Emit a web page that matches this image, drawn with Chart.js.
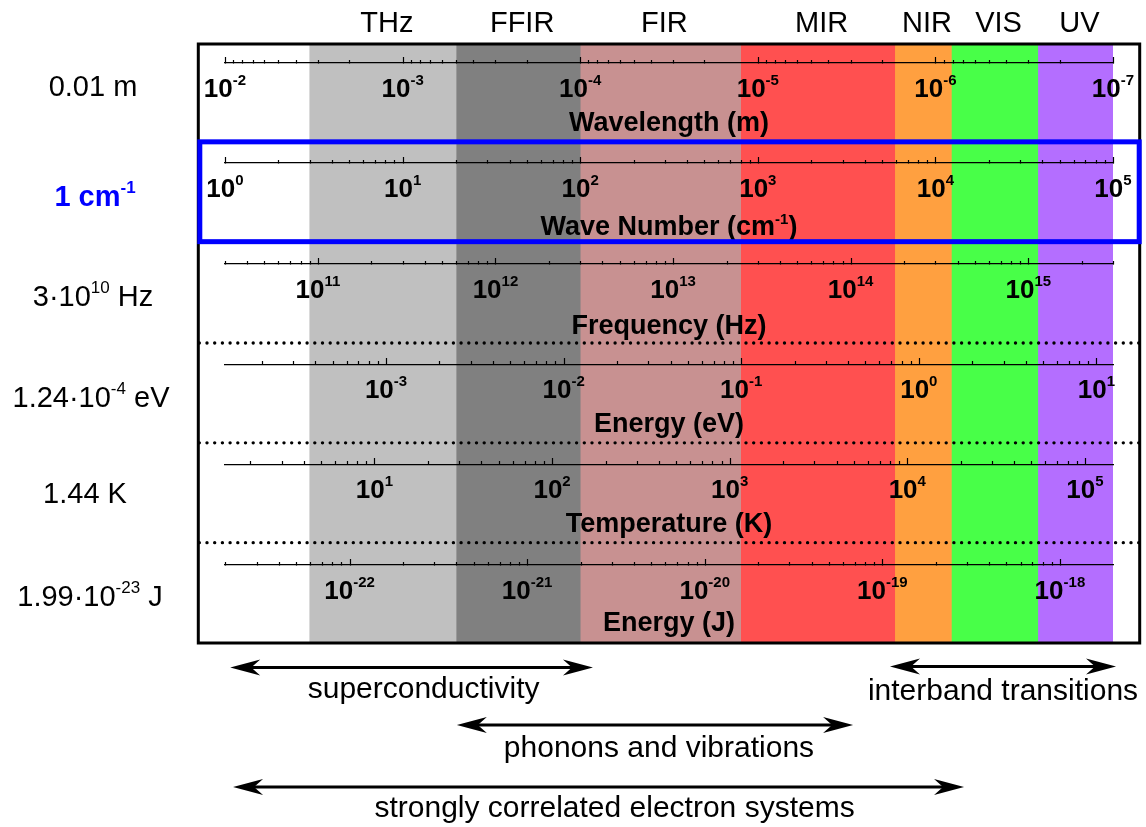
<!DOCTYPE html>
<html>
<head>
<meta charset="utf-8">
<title>Electromagnetic spectrum scales</title>
<script src="https://cdn.jsdelivr.net/npm/chart.js@4.4.1/dist/chart.umd.min.js"></script>
<style>
  html, body { margin: 0; padding: 0; background: #fff; }
  #wrap { width: 1146px; height: 827px; }
</style>
</head>
<body>
<div id="wrap"><canvas id="spectrum" width="1146" height="827"></canvas></div>
<script>
// ---------------- data ----------------
// spectral regions, in wave numbers (cm^-1)
const bandNames  = ['THz', 'FFIR', 'FIR', 'MIR', 'NIR', 'VIS', 'UV'];
const bandFrom   = [3, 20, 100, 800, 5900, 12300, 37700];
const bandTo     = [20, 100, 800, 5900, 12300, 37700, 100000];
const bandColors = ['#c0c0c0', '#808080', '#c89191', '#ff5050', '#ffa040', '#48ff48', '#b46eff'];

// the common wave-number span of every scale row
const wavenumberRange = [1, 1e5];

// one row per physical quantity; value of each quantity at 1 cm^-1
const axisTitles          = ['Wavelength (m)', 'Wave Number (cm^{-1})', 'Frequency (Hz)', 'Energy (eV)', 'Temperature (K)', 'Energy (J)'];
const axisAtOneWavenumber = [0.01, 1, 3e10, 1.24e-4, 1.44, 1.99e-23];
const axisInverse         = [true, false, false, false, false, false];
const referenceLabels     = ['0.01 m', '1 cm^{-1}', '3·10^{10} Hz', '1.24·10^{-4} eV', '1.44 K', '1.99·10^{-23} J'];

// labelled decades of each row
const wavelengthExponents  = [-2, -3, -4, -5, -6, -7];
const wavenumberExponents  = [0, 1, 2, 3, 4, 5];
const frequencyExponents   = [11, 12, 13, 14, 15];
const energyEvExponents    = [-3, -2, -1, 0, 1];
const temperatureExponents = [1, 2, 3, 4, 5];
const energyJExponents     = [-22, -21, -20, -19, -18];
const rowExponents = [wavelengthExponents, wavenumberExponents, frequencyExponents,
                      energyEvExponents, temperatureExponents, energyJExponents];

// physical phenomena and the wave-number ranges they cover
const rangeNames = ['superconductivity', 'interband transitions', 'phonons and vibrations', 'strongly correlated electron systems'];
const rangeFrom  = [1.07, 5550, 20.2, 1.11];
const rangeTo    = [118, 104000, 3440, 14500];

// ---------------- layout & style ----------------
const FONT = '"Liberation Sans", Arial, Helvetica, sans-serif';
const ROW_AXIS_AT   = [0.19, 1.19, 2.2, 3.21, 4.21, 5.22];  // axis line inside each row (row units)
const TITLE_DY      = [67, 71, 69, 67, 67, 65];             // title baseline below axis line
const TICK_LABEL_DY = 33;
const REF_LABEL_X   = [93, 95, 93, 91, 85, 90];
const REF_LABEL_DY  = [52, 62.5, 62.5, 63, 59.5, 63];       // baseline below row top
const ARROW_Y       = [667.5, 666.5, 725, 787];
const ARROW_LABEL_Y = [698, 700, 756.5, 816.5];
const ARROW_LABEL_SHIFT = [12, 0, 4, 16];
const FRAME_MARGIN  = 26.7;

// ---------------- helpers ----------------
function parseRich(str) {
  const parts = [];
  const re = /\^\{([^}]*)\}/g;
  let last = 0, m;
  while ((m = re.exec(str)) !== null) {
    if (m.index > last) parts.push({ text: str.slice(last, m.index), sup: false });
    parts.push({ text: m[1], sup: true });
    last = re.lastIndex;
  }
  if (last < str.length) parts.push({ text: str.slice(last), sup: false });
  return parts;
}

function drawRich(ctx, str, x, y, style) {
  const parts = parseRich(str);
  const fonts = parts.map(p => p.sup ? style.supFont : style.font);
  let w = 0;
  parts.forEach((p, i) => { ctx.font = fonts[i]; w += ctx.measureText(p.text).width; });
  let cx = style.align === 'left' ? x : style.align === 'right' ? x - w : x - w / 2;
  ctx.textAlign = 'left';
  ctx.textBaseline = 'alphabetic';
  ctx.fillStyle = style.color || '#000';
  parts.forEach((p, i) => {
    ctx.font = fonts[i];
    ctx.fillText(p.text, cx, y - (p.sup ? style.rise : 0));
    cx += ctx.measureText(p.text).width;
  });
}

function decadeTicks(min, max) {
  const out = [];
  const lo = Math.floor(Math.log10(min)), hi = Math.ceil(Math.log10(max));
  for (let e = lo; e <= hi; e++) {
    for (let m = 1; m <= 9; m++) {
      const v = m * Math.pow(10, e);
      if (v >= min * (1 - 1e-9) && v <= max * (1 + 1e-9)) out.push({ value: v, major: m === 1 });
    }
  }
  return out;
}

function arrowHead(ctx, tipX, y, dir) {
  const L = 30, H = 8, N = 21;
  ctx.beginPath();
  ctx.moveTo(tipX, y);
  ctx.lineTo(tipX - dir * L, y - H);
  ctx.lineTo(tipX - dir * N, y);
  ctx.lineTo(tipX - dir * L, y + H);
  ctx.closePath();
  ctx.fill();
}

// ---------------- scales ----------------
const rowScaleIds = axisTitles.map((_, i) => 'row' + i);

const scales = {
  x: { type: 'logarithmic', min: wavenumberRange[0], max: wavenumberRange[1], display: false },
  y: { type: 'category', labels: ['spectrum'], offset: true, display: false },
  rows: { type: 'linear', axis: 'y', min: 0, max: 6, reverse: true, offset: false, display: false }
};

rowScaleIds.forEach((id, i) => {
  const u = axisAtOneWavenumber[i];
  const inv = axisInverse[i];
  scales[id] = {
    type: 'logarithmic',
    axis: 'x',
    position: { rows: ROW_AXIS_AT[i] },
    min: inv ? u / wavenumberRange[1] : u * wavenumberRange[0],
    max: inv ? u / wavenumberRange[0] : u * wavenumberRange[1],
    reverse: inv,
    offset: false,
    grid: { display: true, drawOnChartArea: false, drawTicks: false },
    border: { display: true, color: '#000', width: 1.3, z: 1 },
    ticks: { display: false },
    afterBuildTicks: (scale) => { scale.ticks = decadeTicks(scale.min, scale.max); }
  };
});

// ---------------- annotations ----------------
const spectrumDecor = {
  id: 'spectrumDecor',
  afterDraw(chart) {
    const ctx = chart.ctx;
    const area = chart.chartArea;
    const xs = chart.scales.x;
    const rows = chart.scales.rows;
    ctx.save();

    // tick marks, decade labels and titles of every row
    rowScaleIds.forEach((id, i) => {
      const s = chart.scales[id];
      const y = Math.round(rows.getPixelForValue(ROW_AXIS_AT[i])) + 0.5;
      ctx.strokeStyle = '#000';
      ctx.lineWidth = 1.2;
      ctx.beginPath();
      s.ticks.forEach(t => {
        const x = Math.round(s.getPixelForValue(t.value)) + 0.5;
        ctx.moveTo(x, y);
        ctx.lineTo(x, y - (t.major ? 6.5 : 3.5));
      });
      ctx.stroke();

      rowExponents[i].forEach(e => {
        const x = s.getPixelForValue(Math.pow(10, e));
        drawRich(ctx, '10^{' + e + '}', x, y + TICK_LABEL_DY, {
          font: 'bold 26px ' + FONT, supFont: 'bold 15px ' + FONT, rise: 11.5, align: 'center'
        });
      });

      drawRich(ctx, axisTitles[i], (area.left + area.right) / 2, y + TITLE_DY[i], {
        font: 'bold 27px ' + FONT, supFont: 'bold 15px ' + FONT, rise: 11, align: 'center'
      });
    });

    // region names above the frame
    bandNames.forEach((name, i) => {
      const cx = (xs.getPixelForValue(bandFrom[i]) + xs.getPixelForValue(bandTo[i])) / 2 + 4;
      drawRich(ctx, name, cx, 31.5, { font: '29px ' + FONT, supFont: '17px ' + FONT, rise: 12, align: 'center' });
    });

    // value of each quantity at 1 cm^-1
    referenceLabels.forEach((lbl, i) => {
      const top = rows.getPixelForValue(i);
      const blue = i === 1;
      drawRich(ctx, lbl, REF_LABEL_X[i], top + REF_LABEL_DY[i], {
        font: (blue ? 'bold ' : '') + '29px ' + FONT,
        supFont: (blue ? 'bold ' : '') + '17px ' + FONT,
        rise: 13, align: 'center', color: blue ? '#0000ff' : '#000'
      });
    });

    // outer frame
    const fl = area.left - FRAME_MARGIN, fr = area.right + FRAME_MARGIN;
    ctx.strokeStyle = '#000';
    ctx.lineWidth = 3;
    ctx.strokeRect(fl, area.top, fr - fl, area.bottom - area.top);

    // highlighted wave-number row
    ctx.strokeStyle = '#0000ff';
    ctx.lineWidth = 5;
    const by0 = rows.getPixelForValue(1) - 2, by1 = rows.getPixelForValue(2) - 2;
    ctx.strokeRect(fl + 1.5, by0, fr - fl - 2, by1 - by0);

    // dotted separators between the energy-like rows
    ctx.strokeStyle = '#000';
    ctx.lineWidth = 3.4;
    ctx.lineCap = 'round';
    ctx.setLineDash([0, 7.7]);
    [3, 4, 5].forEach(r => {
      const y = rows.getPixelForValue(r) - 0.5;
      ctx.beginPath();
      ctx.moveTo(fl + 1, y);
      ctx.lineTo(chart.width, y);
      ctx.stroke();
    });
    ctx.setLineDash([]);
    ctx.lineCap = 'butt';

    // phenomena ranges
    ctx.fillStyle = '#000';
    rangeNames.forEach((name, i) => {
      const x0 = xs.getPixelForValue(rangeFrom[i]);
      const x1 = xs.getPixelForValue(rangeTo[i]);
      const y = ARROW_Y[i];
      ctx.strokeStyle = '#000';
      ctx.lineWidth = 3;
      ctx.beginPath();
      ctx.moveTo(x0 + 20, y);
      ctx.lineTo(x1 - 20, y);
      ctx.stroke();
      arrowHead(ctx, x0, y, -1);
      arrowHead(ctx, x1, y, 1);
      drawRich(ctx, name, (x0 + x1) / 2 + ARROW_LABEL_SHIFT[i], ARROW_LABEL_Y[i], {
        font: '30px ' + FONT, supFont: '18px ' + FONT, rise: 12, align: 'center'
      });
    });

    ctx.restore();
  }
};

// ---------------- chart ----------------
new Chart(document.getElementById('spectrum'), {
  type: 'bar',
  data: {
    labels: ['spectrum'],
    datasets: bandNames.map((name, i) => ({
      label: name,
      data: [[bandFrom[i], bandTo[i]]],
      backgroundColor: bandColors[i],
      borderWidth: 0,
      barPercentage: 1,
      categoryPercentage: 1,
      grouped: false,
      xAxisID: 'x',
      yAxisID: 'y'
    }))
  },
  options: {
    indexAxis: 'y',
    responsive: false,
    animation: false,
    layout: { padding: { left: 225, right: 33, top: 44, bottom: 184 } },
    plugins: { legend: { display: false }, tooltip: { enabled: false } },
    scales: scales
  },
  plugins: [spectrumDecor]
});
</script>
</body>
</html>
